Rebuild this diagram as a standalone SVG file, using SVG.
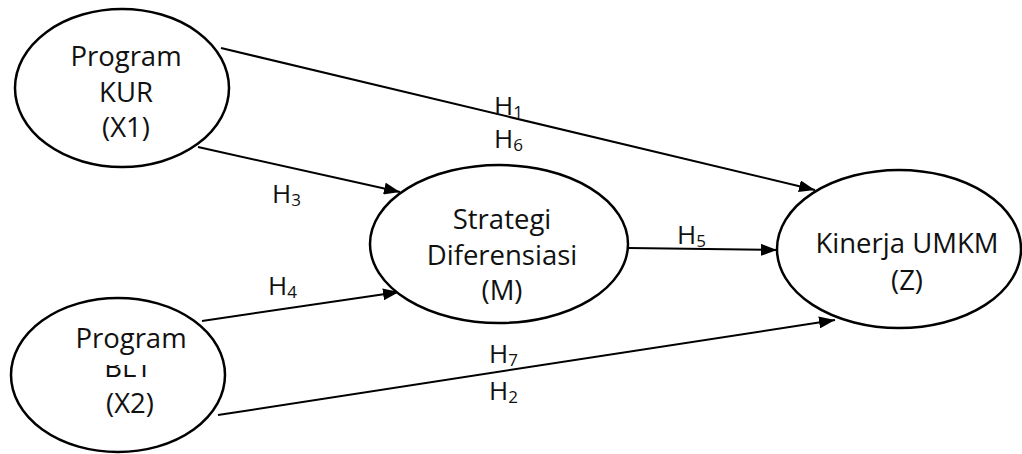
<svg xmlns="http://www.w3.org/2000/svg" width="1022" height="454" viewBox="0 0 1022 454">
  <style>
    .node ellipse { fill: #ffffff; stroke: #000000; stroke-width: 2.5; }
    .lbl { font-family: "Open Sans", "Liberation Sans", sans-serif; font-size: 27.5px; fill: #111111; text-anchor: middle; }
    .h { font-family: "Open Sans", "Liberation Sans", sans-serif; font-size: 26px; fill: #111111; }
    .sub { font-size: 17px; }
    .edge { stroke: #000000; stroke-width: 2; fill: none; marker-end: url(#arrow); }
  </style>
  <defs>
    <marker id="arrow" viewBox="0 0 16 12" refX="16" refY="6" markerWidth="16" markerHeight="12" markerUnits="userSpaceOnUse" orient="auto">
      <path d="M0,0 L16,6 L0,12 z" fill="#000000"/>
    </marker>
    <clipPath id="bltclip">
      <rect x="90" y="365" width="80" height="16"/>
    </clipPath>
  </defs>
  <rect width="1022" height="454" fill="#ffffff"/>

  <g id="connectors">
    <line class="edge" x1="221" y1="48" x2="815" y2="190"/>
    <line class="edge" x1="198" y1="147" x2="400" y2="192"/>
    <line class="edge" x1="202" y1="321" x2="399" y2="292"/>
    <line class="edge" x1="218" y1="415" x2="835" y2="320"/>
    <line class="edge" x1="629" y1="248" x2="777" y2="250"/>
  </g>

  <g id="node-x1" class="node">
    <ellipse cx="122" cy="88" rx="107" ry="79"/>
    <text class="lbl" x="126" y="66">Program</text>
    <text class="lbl" x="126" y="102">KUR</text>
    <text class="lbl" x="126" y="137">(X1)</text>
  </g>

  <g id="node-x2" class="node">
    <ellipse cx="118" cy="375" rx="107" ry="77"/>
    <text class="lbl" x="131" y="348">Program</text>
    <text class="lbl" x="128" y="377" clip-path="url(#bltclip)">BLT</text>
    <text class="lbl" x="130" y="413">(X2)</text>
  </g>

  <g id="node-m" class="node">
    <ellipse cx="499" cy="244" rx="129" ry="79"/>
    <text class="lbl" x="502" y="229">Strategi</text>
    <text class="lbl" x="502" y="265">Diferensiasi</text>
    <text class="lbl" x="502" y="300">(M)</text>
  </g>

  <g id="node-z" class="node">
    <ellipse cx="899" cy="249" rx="122" ry="79"/>
    <text class="lbl" x="907" y="253">Kinerja UMKM</text>
    <text class="lbl" x="907" y="290">(Z)</text>
  </g>

  <g id="edge-labels">
    <text class="h" x="494" y="115">H<tspan class="sub" dy="3">1</tspan></text>
    <text class="h" x="494" y="148">H<tspan class="sub" dy="3">6</tspan></text>
    <text class="h" x="272" y="203">H<tspan class="sub" dy="3">3</tspan></text>
    <text class="h" x="268" y="295">H<tspan class="sub" dy="3">4</tspan></text>
    <text class="h" x="677" y="244">H<tspan class="sub" dy="3">5</tspan></text>
    <text class="h" x="489" y="363">H<tspan class="sub" dy="3">7</tspan></text>
    <text class="h" x="489" y="400">H<tspan class="sub" dy="3">2</tspan></text>
  </g>
</svg>
